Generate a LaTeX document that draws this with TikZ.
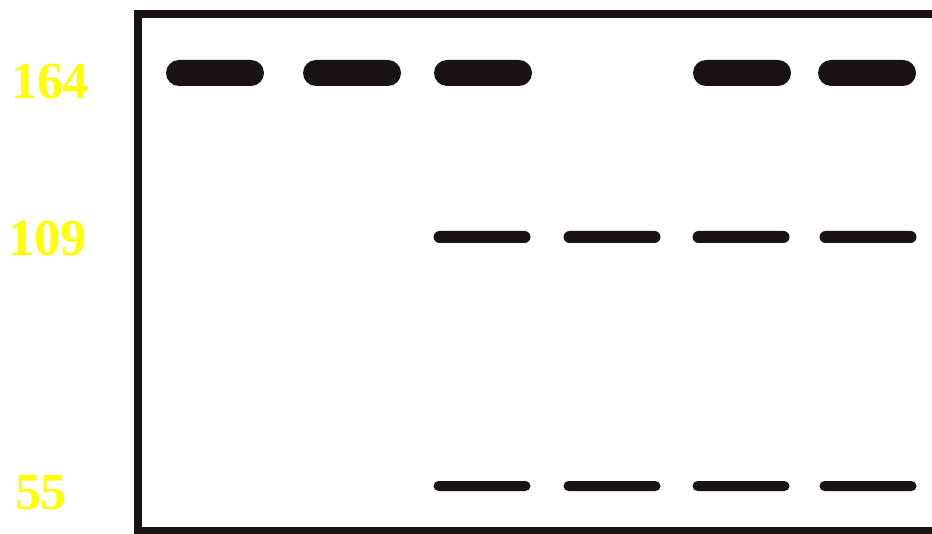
\documentclass[tikz,border=0pt]{standalone}
\usepackage{fontspec}
\setmainfont{Liberation Serif}
\definecolor{bandc}{HTML}{1A1315}
\definecolor{lbl}{HTML}{FFFF00}
\tikzset{
  thick band/.style={fill=bandc, draw=none, rounded corners=13pt, minimum width=98pt, minimum height=26pt, inner sep=0pt, rectangle},
  thin band/.style={fill=bandc, draw=none, rounded corners=6pt, minimum width=97pt, minimum height=12pt, inner sep=0pt, rectangle},
  low band/.style={fill=bandc, draw=none, rounded corners=5pt, minimum width=97pt, minimum height=10pt, inner sep=0pt, rectangle},
  size label/.style={text=lbl, font=\fontsize{52}{52}\selectfont\bfseries, inner sep=0pt},
  frame/.style={draw=bandc, line width=8pt}
}
\begin{document}
\begin{tikzpicture}[x=1pt,y=-1pt]
\useasboundingbox (0,0) rectangle (932,534);
\begin{scope}
\clip (0,0) rectangle (932,534);
\coordinate (tr) at (960,14);
\coordinate (tl) at (138,14);
\coordinate (bl) at (138,531);
\coordinate (br) at (960,531);
\draw[frame, line cap=rect] (tr) -- (tl) -- (bl) -- (br);
\end{scope}
% labels
\node[size label] (l164) at (50,82) {164};
\node[size label] (l109) at (48,238) {109};
\node[size label] (l55) at (41,493) {55};
% 164 bands
\node[thick band] (a1) at (215,73) {};
\node[thick band] (a2) at (352,73) {};
\node[thick band] (a3) at (483,73) {};
\node[thick band] (a5) at (742,73) {};
\node[thick band] (a6) at (867,73) {};
% 109 bands
\node[thin band] (b3) at (482,237) {};
\node[thin band] (b4) at (612,237) {};
\node[thin band] (b5) at (741,237) {};
\node[thin band] (b6) at (868,237) {};
% 55 bands
\node[low band] (c3) at (482,486) {};
\node[low band] (c4) at (612,486) {};
\node[low band] (c5) at (741,486) {};
\node[low band] (c6) at (868,486) {};
\end{tikzpicture}
\end{document}
